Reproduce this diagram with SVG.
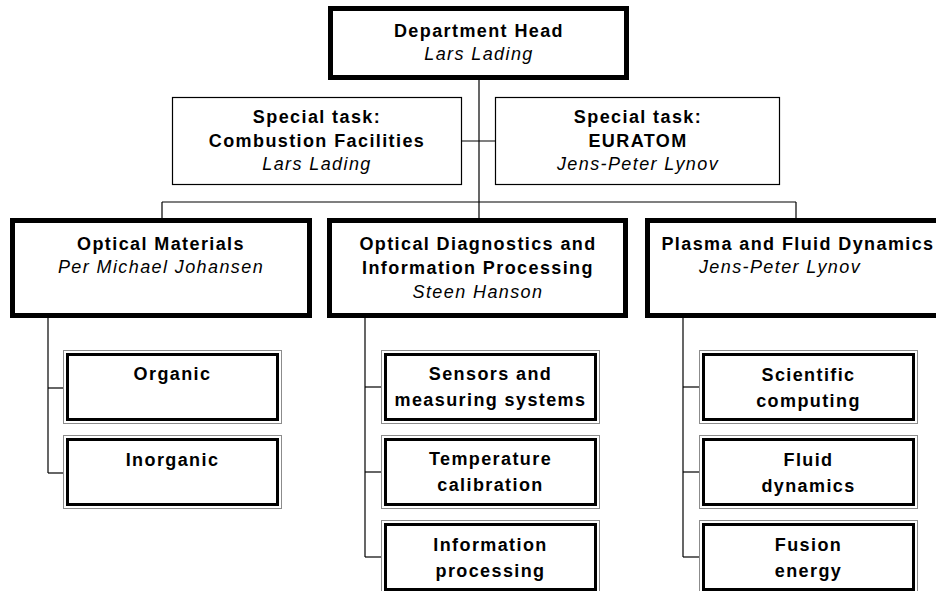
<svg xmlns="http://www.w3.org/2000/svg" width="936" height="591" viewBox="0 0 936 591">
<style>
text{font-family:"Liberation Sans",Arial,sans-serif;font-size:18px;fill:#000;text-anchor:middle;letter-spacing:1.4px}
.b{font-weight:bold}
.i{font-style:italic}
.thick{fill:#fff;stroke:#000;stroke-width:5}
.thin{fill:#fff;stroke:#000;stroke-width:1.2}
.outer{fill:#fff;stroke:#8c8c8c;stroke-width:1}
.inner{fill:none;stroke:#000;stroke-width:3}
.conn line{stroke:#000;stroke-width:1.2}
</style>
<rect width="936" height="591" fill="#fff"/>
<g class="conn">
<line x1="479" y1="80" x2="479" y2="218"/>
<line x1="462" y1="141" x2="495" y2="141"/>
<line x1="162" y1="202" x2="796" y2="202"/>
<line x1="162" y1="202" x2="162" y2="218"/>
<line x1="796" y1="202" x2="796" y2="218"/>
<line x1="48" y1="318" x2="48" y2="473"/>
<line x1="48" y1="388" x2="63" y2="388"/>
<line x1="48" y1="473" x2="63" y2="473"/>
<line x1="365" y1="318" x2="365" y2="557"/>
<line x1="365" y1="387" x2="381" y2="387"/>
<line x1="365" y1="472" x2="381" y2="472"/>
<line x1="365" y1="557" x2="381" y2="557"/>
<line x1="683" y1="318" x2="683" y2="557"/>
<line x1="683" y1="387" x2="699" y2="387"/>
<line x1="683" y1="472" x2="699" y2="472"/>
<line x1="683" y1="557" x2="699" y2="557"/>
</g>
<g id="head">
<rect class="thick" x="330.5" y="8.5" width="296" height="69"/>
<text class="b" x="479" y="37">Department Head</text>
<text class="i" x="479" y="60">Lars Lading</text>
</g>
<g id="task-combustion">
<rect class="thin" x="172.5" y="97.5" width="289" height="87"/>
<text class="b" x="317" y="123">Special task:</text>
<text class="b" x="317" y="147">Combustion Facilities</text>
<text class="i" x="317" y="170">Lars Lading</text>
</g>
<g id="task-euratom">
<rect class="thin" x="495.5" y="97.5" width="284" height="87"/>
<text class="b" x="638" y="123">Special task:</text>
<text class="b" x="638" y="147">EURATOM</text>
<text class="i" x="638" y="170">Jens-Peter Lynov</text>
</g>
<g id="optical-materials">
<rect class="thick" x="12.5" y="220.5" width="297" height="95"/>
<text class="b" x="161" y="250">Optical Materials</text>
<text class="i" x="161" y="273">Per Michael Johansen</text>
</g>
<g id="optical-diagnostics">
<rect class="thick" x="329.5" y="220.5" width="296" height="95"/>
<text class="b" x="478" y="250">Optical Diagnostics and</text>
<text class="b" x="478" y="274">Information Processing</text>
<text class="i" x="478" y="298">Steen Hanson</text>
</g>
<g id="plasma">
<rect class="thick" x="647.5" y="220.5" width="297" height="95"/>
<text class="b" x="798" y="250">Plasma and Fluid Dynamics</text>
<text class="i" x="780" y="273">Jens-Peter Lynov</text>
</g>
<g id="organic">
<rect class="outer" x="63.5" y="350.5" width="218" height="73"/>
<rect class="inner" x="67.5" y="354.5" width="210" height="65"/>
<text class="b" x="172.5" y="380">Organic</text>
</g>
<g id="inorganic">
<rect class="outer" x="63.5" y="435.5" width="218" height="73"/>
<rect class="inner" x="67.5" y="439.5" width="210" height="65"/>
<text class="b" x="172.5" y="466">Inorganic</text>
</g>
<g id="sensors">
<rect class="outer" x="381.5" y="350.5" width="218" height="73"/>
<rect class="inner" x="385.5" y="354.5" width="210" height="65"/>
<text class="b" x="490.5" y="380">Sensors and</text>
<text class="b" x="490.5" y="406">measuring systems</text>
</g>
<g id="temperature">
<rect class="outer" x="381.5" y="435.5" width="218" height="73"/>
<rect class="inner" x="385.5" y="439.5" width="210" height="65"/>
<text class="b" x="490.5" y="465">Temperature</text>
<text class="b" x="490.5" y="491">calibration</text>
</g>
<g id="information">
<rect class="outer" x="381.5" y="520.5" width="218" height="73"/>
<rect class="inner" x="385.5" y="524.5" width="210" height="65"/>
<text class="b" x="490.5" y="551">Information</text>
<text class="b" x="490.5" y="577">processing</text>
</g>
<g id="scientific">
<rect class="outer" x="699.5" y="350.5" width="218" height="73"/>
<rect class="inner" x="703.5" y="354.5" width="210" height="65"/>
<text class="b" x="808.5" y="381">Scientific</text>
<text class="b" x="808.5" y="407">computing</text>
</g>
<g id="fluid">
<rect class="outer" x="699.5" y="435.5" width="218" height="73"/>
<rect class="inner" x="703.5" y="439.5" width="210" height="65"/>
<text class="b" x="808.5" y="466">Fluid</text>
<text class="b" x="808.5" y="492">dynamics</text>
</g>
<g id="fusion">
<rect class="outer" x="699.5" y="520.5" width="218" height="73"/>
<rect class="inner" x="703.5" y="524.5" width="210" height="65"/>
<text class="b" x="808.5" y="551">Fusion</text>
<text class="b" x="808.5" y="577">energy</text>
</g>
</svg>
